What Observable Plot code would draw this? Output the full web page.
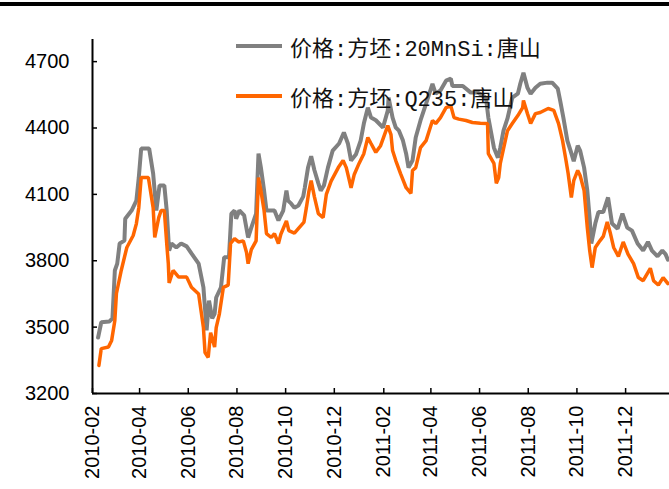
<!DOCTYPE html>
<html>
<head>
<meta charset="utf-8">
<script src="https://cdn.jsdelivr.net/npm/d3@7"></script>
<script src="https://cdn.jsdelivr.net/npm/@observablehq/plot@0.6"></script>
<style>
  body { margin: 0; background: #fff; }
  #wrap { position: relative; width: 669px; height: 489px; overflow: hidden; background: #fff; }
  #topline { position: absolute; left: 0; top: 2px; width: 669px; height: 4px; background: #000; }
  .leg { position: absolute; left: 236px; height: 30px; display: flex; align-items: center; white-space: nowrap;
         font-family: "Liberation Mono", "Noto Sans CJK SC", monospace; font-size: 22px; color: #111; }
  .leg .sw { width: 46px; height: 4px; margin-right: 8px; }
</style>
</head>
<body>
<div id="wrap"><div id="topline"></div></div>
<script>
const seriesNames = ["价格:方坯:20MnSi:唐山", "价格:方坯:Q235:唐山"];
const seriesColors = ["#808080", "#FF6600"];

const xTickLabels = ["2010-02","2010-04","2010-06","2010-08","2010-10","2010-12",
                     "2011-02","2011-04","2011-06","2011-08","2011-10","2011-12"];
const yTicks = [3200, 3500, 3800, 4100, 4400, 4700];

const grayDates = [
"2010-02-08","2010-02-12","2010-02-22","2010-02-26","2010-03-01","2010-03-04","2010-03-07","2010-03-13","2010-03-14","2010-03-22",
"2010-03-28","2010-03-31","2010-04-03","2010-04-13","2010-04-18","2010-04-22","2010-04-26","2010-05-02","2010-05-05","2010-05-08",
"2010-05-11","2010-05-17","2010-05-23","2010-05-30","2010-06-05","2010-06-14","2010-06-20","2010-06-24","2010-06-27","2010-07-01",
"2010-07-04","2010-07-06","2010-07-12","2010-07-16","2010-07-22","2010-07-25","2010-07-29","2010-07-31","2010-08-04","2010-08-10",
"2010-08-15","2010-08-19","2010-08-25","2010-08-28","2010-08-31","2010-09-04","2010-09-07","2010-09-17","2010-09-22","2010-09-28",
"2010-10-02","2010-10-04","2010-10-08","2010-10-12","2010-10-17","2010-10-23","2010-10-25","2010-10-29","2010-11-02","2010-11-06",
"2010-11-11","2010-11-14","2010-11-18","2010-11-23","2010-11-29","2010-12-07","2010-12-13","2010-12-18","2010-12-22","2010-12-28",
"2011-01-03","2011-01-07","2011-01-12","2011-01-16","2011-01-22","2011-01-31","2011-02-06","2011-02-07","2011-02-12","2011-02-16",
"2011-02-20","2011-02-25","2011-03-01","2011-03-04","2011-03-09","2011-03-13","2011-03-19","2011-03-26","2011-04-03","2011-04-07",
"2011-04-13","2011-04-20","2011-04-26","2011-04-28","2011-05-11","2011-05-21","2011-05-30","2011-06-09","2011-06-12","2011-06-19",
"2011-06-24","2011-06-27","2011-07-01","2011-07-06","2011-07-12","2011-07-19","2011-07-22","2011-07-26","2011-07-31","2011-08-04",
"2011-08-10","2011-08-16","2011-08-25","2011-08-31","2011-09-07","2011-09-10","2011-09-14","2011-09-19","2011-09-23","2011-09-27",
"2011-10-02","2011-10-05","2011-10-10","2011-10-14","2011-10-17","2011-10-19","2011-10-24","2011-10-28","2011-11-03","2011-11-09",
"2011-11-14","2011-11-21","2011-11-27","2011-12-03","2011-12-09","2011-12-16","2011-12-23","2011-12-29","2012-01-03","2012-01-10",
"2012-01-16","2012-01-20","2012-01-23"];
const grayValues = [
3453,3522,3525,3540,3756,3787,3878,3891,3990,4027,
4072,4176,4307,4307,4194,4027,4140,4140,4027,3846,
3878,3860,3878,3865,3833,3787,3680,3485,3620,3540,
3560,3634,3680,3816,3816,4013,4027,3990,4027,4005,
3905,3950,4013,4284,4221,4117,4027,4027,3982,4027,
4117,4072,4058,4040,4050,4090,4130,4220,4272,4210,
4150,4117,4140,4221,4298,4330,4380,4330,4253,4280,
4343,4420,4492,4447,4435,4402,4479,4537,4447,4402,
4388,4343,4284,4221,4253,4357,4434,4510,4600,4555,
4570,4614,4623,4590,4590,4560,4560,4537,4447,4311,
4266,4311,4388,4443,4537,4555,4600,4650,4582,4555,
4582,4600,4605,4605,4578,4524,4447,4343,4298,4250,
4320,4298,4221,4117,3990,3878,3968,4020,4020,4086,
3968,3945,4013,3950,3936,3878,3846,3885,3846,3820,
3846,3830,3805];

const orangeDates = [
"2010-02-09","2010-02-12","2010-02-21","2010-02-25","2010-03-01","2010-03-03","2010-03-09","2010-03-16","2010-03-24","2010-03-28",
"2010-03-31","2010-04-03","2010-04-12","2010-04-18","2010-04-20","2010-04-25","2010-04-28","2010-05-02","2010-05-05","2010-05-07",
"2010-05-08","2010-05-13","2010-05-20","2010-05-30","2010-06-05","2010-06-14","2010-06-20","2010-06-22","2010-06-26","2010-06-29",
"2010-07-04","2010-07-06","2010-07-10","2010-07-15","2010-07-21","2010-07-24","2010-07-29","2010-08-03","2010-08-09","2010-08-13",
"2010-08-15","2010-08-19","2010-08-25","2010-08-28","2010-08-31","2010-09-04","2010-09-07","2010-09-13","2010-09-17","2010-09-22",
"2010-09-25","2010-10-02","2010-10-05","2010-10-12","2010-10-18","2010-10-24","2010-10-27","2010-10-30","2010-11-02","2010-11-06",
"2010-11-11","2010-11-17","2010-11-21","2010-11-27","2010-12-06","2010-12-12","2010-12-16","2010-12-19","2010-12-22","2010-12-26",
"2011-01-01","2011-01-07","2011-01-12","2011-01-16","2011-01-22","2011-01-28","2011-02-06","2011-02-10","2011-02-12","2011-02-16",
"2011-02-22","2011-03-01","2011-03-07","2011-03-09","2011-03-13","2011-03-19","2011-03-26","2011-04-03","2011-04-07","2011-04-13",
"2011-04-20","2011-04-26","2011-04-30","2011-05-06","2011-05-15","2011-05-23","2011-06-02","2011-06-11","2011-06-12","2011-06-19",
"2011-06-22","2011-06-25","2011-06-27","2011-07-06","2011-07-12","2011-07-19","2011-07-25","2011-07-26","2011-07-31","2011-08-04",
"2011-08-10","2011-08-16","2011-08-26","2011-09-02","2011-09-08","2011-09-13","2011-09-17","2011-09-20","2011-09-24","2011-09-27",
"2011-10-02","2011-10-05","2011-10-10","2011-10-14","2011-10-17","2011-10-20","2011-10-24","2011-10-30","2011-11-03","2011-11-08",
"2011-11-12","2011-11-16","2011-11-22","2011-11-28","2011-12-04","2011-12-11","2011-12-17","2011-12-23","2012-01-01","2012-01-05",
"2012-01-11","2012-01-17","2012-01-23"];
const orangeValues = [
3327,3403,3410,3440,3530,3652,3756,3860,3914,3968,
4040,4176,4176,4040,3905,3995,4027,4027,3878,3787,
3700,3756,3726,3726,3680,3650,3498,3385,3363,3475,
3410,3498,3560,3680,3690,3878,3900,3885,3890,3837,
3787,3850,3890,4176,4117,4027,3923,3905,3923,3878,
3920,3980,3936,3925,3950,3975,4040,4110,4162,4090,
4013,3995,4100,4160,4221,4253,4221,4176,4130,4190,
4240,4284,4357,4330,4290,4320,4411,4370,4298,4253,
4194,4130,4104,4208,4221,4311,4343,4434,4420,4447,
4492,4500,4447,4440,4434,4425,4422,4420,4284,4240,
4150,4176,4240,4388,4420,4456,4492,4524,4465,4420,
4465,4470,4488,4480,4420,4343,4260,4194,4086,4162,
4208,4185,4117,3950,3846,3769,3860,3891,3910,3975,
3923,3860,3820,3885,3830,3787,3724,3710,3766,3710,
3690,3724,3697];

const parse = d3.utcParse("%Y-%m-%d");
const gray = grayDates.map((d, i) => ({date: parse(d), value: grayValues[i]}));
const orange = orangeDates.map((d, i) => ({date: parse(d), value: orangeValues[i]}));
const xTicks = xTickLabels.map(s => d3.utcParse("%Y-%m")(s));
const xStart = xTicks[0];
const xEnd = parse("2012-01-25");

const chart = Plot.plot({
  width: 669,
  height: 489,
  marginLeft: 92,
  marginRight: 0,
  marginTop: 39,
  marginBottom: 96,
  style: {fontFamily: "'Liberation Sans', Arial, sans-serif", fontSize: "20px", color: "#000", background: "transparent", overflow: "visible"},
  x: {type: "utc", domain: [xStart, xEnd], label: null},
  y: {domain: [3200, 4800], label: null},
  marks: [
    Plot.axisY(yTicks, {tickSize: -5, tickPadding: 28, fontSize: 20, tickFormat: d3.format("d"), label: null, stroke: "#000", strokeWidth: 1.5, fill: "#000"}),
    Plot.axisX(xTicks, {tickRotate: -90, tickFormat: d3.utcFormat("%Y-%m"), tickSize: -5, tickPadding: 17, fontSize: 20, label: null, stroke: "#000", strokeWidth: 1.5, fill: "#000"}),
    Plot.ruleX([xStart], {y1: 3200, y2: 4800, stroke: "#000", strokeWidth: 2}),
    Plot.ruleY([3200], {stroke: "#000", strokeWidth: 2}),
    Plot.lineY(gray, {x: "date", y: "value", stroke: seriesColors[0], strokeWidth: 4, strokeLinejoin: "miter"}),
    Plot.lineY(orange, {x: "date", y: "value", stroke: seriesColors[1], strokeWidth: 3.5, strokeLinejoin: "miter"})
  ]
});
chart.style.position = "absolute";
chart.style.left = "0";
chart.style.top = "0";
const wrap = document.getElementById("wrap");
wrap.appendChild(chart);

const legendTops = [31, 81];
seriesNames.forEach((name, i) => {
  const row = document.createElement("div");
  row.className = "leg";
  row.style.top = legendTops[i] + "px";
  const sw = document.createElement("div");
  sw.className = "sw";
  sw.style.background = seriesColors[i];
  const tx = document.createElement("span");
  tx.textContent = name;
  row.appendChild(sw);
  row.appendChild(tx);
  wrap.appendChild(row);
});
</script>
</body>
</html>
